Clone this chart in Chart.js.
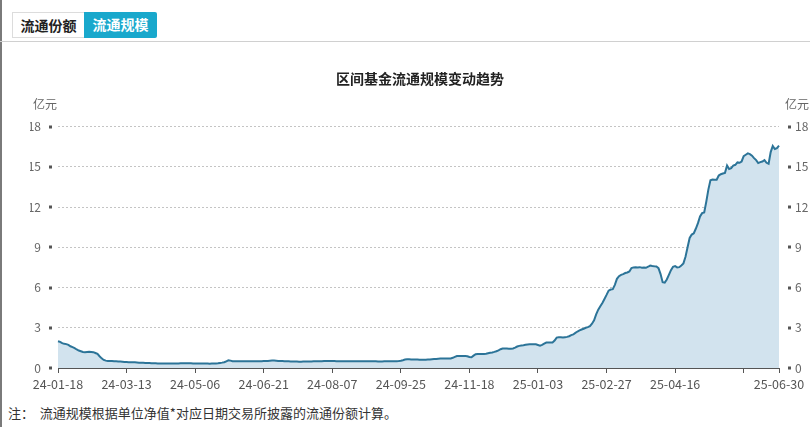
<!DOCTYPE html>
<html><head><meta charset="utf-8">
<script src="https://cdn.jsdelivr.net/npm/chart.js@4.4.1/dist/chart.umd.min.js"></script>
<style>
html,body{margin:0;padding:0;background:#fff;width:810px;height:427px;overflow:hidden;font-family:"Noto Sans CJK SC",sans-serif;}
#leftbar{position:absolute;left:0;top:0;width:2px;height:427px;background:#7a7a7a;}
.tab{position:absolute;top:12px;height:26px;line-height:25px;font-size:14px;font-weight:bold;text-align:center;box-sizing:border-box;}
#tab1{left:12px;width:72px;border:1px solid #dcdcdc;border-right:none;color:#222;background:#fff;}
#tab2{left:84px;width:73px;background:#19a8cc;color:#fff;border-radius:0 2px 2px 0;}
#hline{position:absolute;left:0;top:41px;width:810px;height:1px;background:#d0d0d0;}
#wrap{position:absolute;left:0;top:42px;width:810px;height:360px;}
#note{position:absolute;left:8px;top:403px;font-size:13px;color:#333;line-height:20px;white-space:pre;}
</style></head>
<body>
<div id="leftbar"></div>
<div class="tab" id="tab1">流通份额</div>
<div class="tab" id="tab2">流通规模</div>
<div id="hline"></div>
<div id="wrap"><canvas id="c"></canvas></div>
<div id="note">注：  流通规模根据单位净值*对应日期交易所披露的流通份额计算。</div>
<script>
const chartTitle = '区间基金流通规模变动趋势';
const unit = '亿元';
const tickIdx = [0,33,66,99,132,165,198,231,264,297,330,347];
const tickText = ['24-01-18','24-03-13','24-05-06','24-06-21','24-08-07','24-09-25','24-11-18','25-01-03','25-02-27','25-04-16','','25-06-30'];
const yTicks = [0,3,6,9,12,15,18];
const scaleValues = [
2.0,1.95,1.85,1.8,1.78,1.72,1.62,1.55,1.48,1.38,
1.3,1.25,1.2,1.18,1.2,1.22,1.2,1.18,1.12,1.05,
0.88,0.72,0.6,0.55,0.53,0.52,0.52,0.5,0.5,0.49,
0.48,0.47,0.45,0.44,0.43,0.42,0.42,0.42,0.41,0.4,
0.4,0.39,0.38,0.38,0.37,0.36,0.35,0.35,0.34,0.34,
0.33,0.33,0.33,0.34,0.34,0.33,0.33,0.34,0.34,0.35,
0.35,0.35,0.36,0.35,0.35,0.34,0.34,0.33,0.33,0.33,
0.34,0.33,0.33,0.32,0.33,0.33,0.33,0.35,0.38,0.4,
0.43,0.5,0.57,0.55,0.5,0.5,0.5,0.51,0.5,0.5,
0.51,0.5,0.5,0.51,0.51,0.5,0.5,0.51,0.51,0.52,
0.53,0.53,0.54,0.55,0.55,0.54,0.53,0.52,0.52,0.51,
0.5,0.5,0.49,0.49,0.48,0.48,0.47,0.47,0.48,0.48,
0.48,0.49,0.49,0.5,0.5,0.5,0.51,0.51,0.52,0.52,
0.52,0.52,0.52,0.52,0.51,0.51,0.51,0.51,0.5,0.5,
0.51,0.51,0.51,0.51,0.5,0.5,0.5,0.5,0.5,0.5,
0.5,0.5,0.5,0.5,0.49,0.49,0.49,0.5,0.5,0.5,
0.5,0.5,0.5,0.51,0.52,0.54,0.58,0.63,0.65,0.65,
0.64,0.64,0.63,0.63,0.62,0.62,0.62,0.62,0.63,0.64,
0.66,0.67,0.68,0.69,0.7,0.7,0.7,0.7,0.7,0.71,
0.76,0.83,0.89,0.9,0.9,0.9,0.89,0.88,0.82,0.8,
0.92,1.03,1.05,1.04,1.04,1.05,1.07,1.1,1.13,1.16,
1.2,1.25,1.32,1.4,1.45,1.46,1.45,1.44,1.44,1.46,
1.52,1.6,1.65,1.68,1.7,1.73,1.76,1.77,1.78,1.77,
1.77,1.72,1.67,1.72,1.82,1.9,1.9,1.91,1.9,2.05,
2.27,2.3,2.3,2.28,2.3,2.32,2.37,2.45,2.5,2.62,
2.72,2.8,2.87,2.93,3.0,3.05,3.12,3.3,3.55,4.0,
4.35,4.6,4.85,5.15,5.45,5.77,5.85,5.88,6.2,6.65,
6.85,6.95,7.0,7.08,7.12,7.2,7.45,7.5,7.52,7.5,
7.52,7.48,7.5,7.47,7.55,7.64,7.6,7.58,7.57,7.45,
7.0,6.4,6.37,6.6,6.95,7.3,7.55,7.6,7.5,7.52,
7.65,7.8,8.3,9.0,9.7,9.95,10.05,10.4,10.8,11.3,
11.55,11.6,12.4,13.3,14.0,14.05,14.04,14.04,14.35,14.45,
14.5,14.55,15.1,14.84,14.9,15.1,15.15,15.33,15.3,15.4,
15.8,15.9,16.0,15.95,15.83,15.65,15.5,15.28,15.35,15.4,
15.5,15.3,15.23,16.1,16.55,16.33,16.4,16.58
];
const categories = scaleValues.map((_, i) => i);

const deco = {
  id: 'deco',
  afterDraw(chart) {
    const ctx = chart.ctx, a = chart.chartArea;
    ctx.save();
    ctx.fillStyle = '#555';
    ['yL', 'yR'].forEach(id => {
      const s = chart.scales[id];
      s.ticks.forEach(t => {
        const y = Math.round(s.getPixelForValue(t.value));
        const x = id === 'yL' ? a.left - 9 : a.right + 9;
        ctx.fillRect(x, y - 1.5, 3, 3);
      });
    });
    ctx.fillStyle = '#666';
    ctx.font = '12px "Noto Sans CJK SC"';
    ctx.textBaseline = 'middle';
    ctx.textAlign = 'right';
    ctx.fillText(unit, a.left - 1, a.top - 22);
    ctx.textAlign = 'left';
    ctx.fillText(unit, a.right + 6, a.top - 22);
    ctx.restore();
  }
};

new Chart(document.getElementById('c'), {
  type: 'line',
  data: {
    labels: categories,
    datasets: [{
      data: scaleValues,
      yAxisID: 'yL',
      borderColor: '#2c7498',
      backgroundColor: '#d2e3ee',
      borderWidth: 2,
      fill: 'origin',
      pointRadius: 0,
      tension: 0
    }]
  },
  options: {
    responsive: true,
    maintainAspectRatio: false,
    animation: false,
    layout: { padding: { left: 30, right: 0, top: 0, bottom: 0 } },
    plugins: {
      legend: { display: false },
      tooltip: { enabled: false },
      title: {
        display: true,
        text: chartTitle,
        color: '#222',
        font: { family: '"Noto Sans CJK SC"', size: 14, weight: 'bold' },
        padding: { top: 28.4, bottom: 39.4 }
      }
    },
    scales: {
      x: {
        type: 'category',
        offset: false,
        border: { display: true, color: '#555', width: 1 },
        grid: { display: true, drawOnChartArea: false, drawTicks: true, tickLength: 5, color: '#555' },
        ticks: {
          autoSkip: false, maxRotation: 0, minRotation: 0, padding: 4,
          color: '#555', font: { family: '"Noto Sans CJK SC"', size: 12.5 },
          callback: function (v, i) { const k = tickIdx.indexOf(i); return k < 0 ? null : tickText[k]; }
        },
        afterFit: s => { s.height = 34; }
      },
      yL: {
        position: 'left', min: 0, max: 18,
        border: { display: false, dash: [2, 2] },
        grid: { color: '#c4c4c4', drawTicks: false, tickLength: 0, lineWidth: 1 },
        ticks: { stepSize: 3, padding: 17, color: '#666', font: { family: '"Noto Sans CJK SC"', size: 12 } },
        afterBuildTicks: s => { s.ticks = yTicks.map(v => ({ value: v })); },
        afterFit: s => { s.width = 28; }
      },
      yR: {
        position: 'right', min: 0, max: 18,
        border: { display: false },
        grid: { drawOnChartArea: false, drawTicks: false },
        ticks: { stepSize: 3, padding: 16, color: '#666', font: { family: '"Noto Sans CJK SC"', size: 12 } },
        afterBuildTicks: s => { s.ticks = yTicks.map(v => ({ value: v })); },
        afterFit: s => { s.width = 31; }
      }
    }
  },
  plugins: [deco]
});
</script>
</body></html>
